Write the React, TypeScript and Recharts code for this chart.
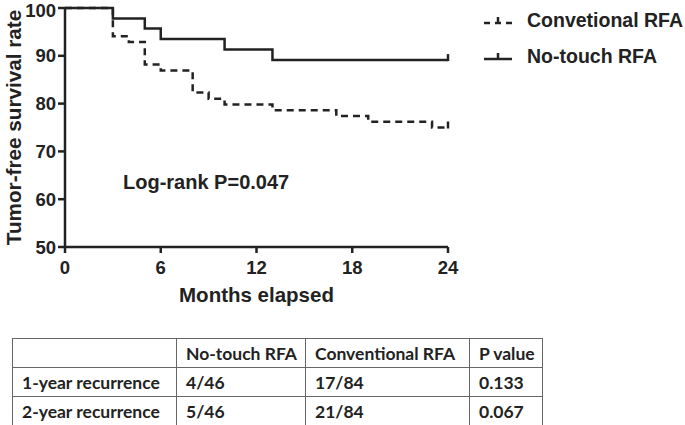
import React from 'react'
import { LineChart, Line, XAxis, YAxis } from 'recharts'

// Kaplan-Meier steps (months, % tumor-free)
const noTouchMonths = [0, 3, 5, 6, 10, 13, 24]
const noTouchRate = [100, 97.8, 95.7, 93.5, 91.3, 89.1, 89.1]

const convMonths = [0, 3, 4, 5, 6, 8, 9, 10, 13, 17, 19, 23, 24]
const convRate = [100, 94.1, 92.9, 88.2, 86.9, 82.3, 81.0, 79.8, 78.6, 77.4, 76.2, 75.0, 75.0]

const xTicks = [0, 6, 12, 18, 24]
const yTicks = [50, 60, 70, 80, 90, 100]

const seriesNames = ['Convetional RFA', 'No-touch RFA']
const logRankText = 'Log-rank P=0.047'

// table
const tableHeader = ['', 'No-touch RFA', 'Conventional RFA', 'P value']
const rowLabels = ['1-year recurrence', '2-year recurrence']
const noTouchRecurrence = ['4/46', '5/46']
const conventionalRecurrence = ['17/84', '21/84']
const pValues = ['0.133', '0.067']

const noTouchData = noTouchMonths.map((t, i) => ({ t, s: noTouchRate[i] }))
const convData = convMonths.map((t, i) => ({ t, s: convRate[i] }))

const INK = '#222'
const FONT = '"Liberation Sans", Arial, sans-serif'

// censor tick on the last point of each curve
const endTick = (len: number) => (props: any) => {
  const { cx, cy, index } = props
  if (index !== len - 1) return <g key={`d${index}`} />
  return (
    <line key={`d${index}`} x1={cx} y1={cy + 1} x2={cx} y2={cy - 6} stroke={INK} strokeWidth={2.5} />
  )
}

const YTitle = (props: any) => {
  const vb = props.viewBox
  const cx = 13
  const cy = vb.y + vb.height / 2
  return (
    <text
      x={cx}
      y={cy}
      transform={`rotate(-90 ${cx} ${cy})`}
      textAnchor="middle"
      dominantBaseline="central"
      fill={INK}
      fontWeight="bold"
      fontSize={20.7}
      fontFamily={FONT}
    >
      Tumor-free survival rate
    </text>
  )
}

const XTitle = (props: any) => {
  const vb = props.viewBox
  return (
    <text
      x={vb.x + vb.width / 2}
      y={vb.y + 55}
      textAnchor="middle"
      fill={INK}
      fontWeight="bold"
      fontSize={20.5}
      fontFamily={FONT}
    >
      Months elapsed
    </text>
  )
}

const tickStyle = { fontSize: 18.5, fontWeight: 'bold' as const, fill: INK, fontFamily: FONT }

function LegendIcon({ dashed }: { dashed: boolean }) {
  return (
    <svg width={30} height={12} style={{ display: 'block' }}>
      <line
        x1={1}
        y1={9}
        x2={29}
        y2={9}
        stroke={INK}
        strokeWidth={2.5}
        strokeDasharray={dashed ? '6 5' : undefined}
      />
      <line x1={15} y1={9} x2={15} y2={3} stroke={INK} strokeWidth={2.5} />
    </svg>
  )
}

const cellStyle: React.CSSProperties = {
  border: '1px solid #666',
  padding: '0 0 0 9px',
  height: 28,
  textAlign: 'left',
  fontWeight: 'bold',
  whiteSpace: 'nowrap',
}

export default function App() {
  return (
    <div
      style={{
        position: 'absolute',
        left: 0,
        top: 0,
        width: 685,
        height: 425,
        background: '#fff',
        fontFamily: FONT,
        color: INK,
      }}
    >
      <LineChart width={685} height={330} margin={{ top: 8, right: 237, left: 0, bottom: 23 }}>
        <XAxis
          type="number"
          dataKey="t"
          domain={[0, 24]}
          ticks={xTicks}
          tick={tickStyle}
          tickSize={6}
          tickMargin={8}
          height={60}
          axisLine={{ stroke: INK, strokeWidth: 2.5 }}
          tickLine={{ stroke: INK, strokeWidth: 2.5 }}
          allowDuplicatedCategory={false}
          label={{ content: XTitle }}
        />
        <YAxis
          type="number"
          domain={[50, 100]}
          ticks={yTicks}
          tick={tickStyle}
          tickSize={7}
          tickMargin={2}
          width={65}
          axisLine={{ stroke: INK, strokeWidth: 2.5 }}
          tickLine={{ stroke: INK, strokeWidth: 2.5 }}
          label={{ content: YTitle }}
        />
        <Line
          data={convData}
          dataKey="s"
          type="stepAfter"
          stroke={INK}
          strokeWidth={2.5}
          strokeDasharray="7 5"
          dot={endTick(convData.length)}
          activeDot={false}
          isAnimationActive={false}
        />
        <Line
          data={noTouchData}
          dataKey="s"
          type="stepAfter"
          stroke={INK}
          strokeWidth={2.5}
          dot={endTick(noTouchData.length)}
          activeDot={false}
          isAnimationActive={false}
        />
      </LineChart>

      <div
        style={{
          position: 'absolute',
          left: 123,
          top: 171,
          fontSize: 20,
          fontWeight: 'bold',
          whiteSpace: 'nowrap',
        }}
      >
        {logRankText}
      </div>

      <div style={{ position: 'absolute', left: 483, top: 7 }}>
        {seriesNames.map((name, i) => (
          <div
            key={name}
            style={{ display: 'flex', alignItems: 'center', height: 26, marginBottom: i === 0 ? 10 : 0 }}
          >
            <LegendIcon dashed={i === 0} />
            <span style={{ marginLeft: 14, fontSize: 19.5, fontWeight: 'bold', whiteSpace: 'nowrap' }}>
              {name}
            </span>
          </div>
        ))}
      </div>

      <table
        style={{
          position: 'absolute',
          left: 12,
          top: 338,
          width: 530,
          borderCollapse: 'collapse',
          fontFamily: 'Lato, "Open Sans", sans-serif',
          fontSize: 17.5,
          color: INK,
          tableLayout: 'fixed',
        }}
      >
        <colgroup>
          <col style={{ width: 164 }} />
          <col style={{ width: 129 }} />
          <col style={{ width: 164 }} />
          <col style={{ width: 73 }} />
        </colgroup>
        <tbody>
          <tr>
            {tableHeader.map((h, i) => (
              <td key={i} style={cellStyle}>
                {h}
              </td>
            ))}
          </tr>
          {rowLabels.map((label, i) => (
            <tr key={label}>
              <td style={cellStyle}>{label}</td>
              <td style={cellStyle}>{noTouchRecurrence[i]}</td>
              <td style={cellStyle}>{conventionalRecurrence[i]}</td>
              <td style={cellStyle}>{pValues[i]}</td>
            </tr>
          ))}
        </tbody>
      </table>
    </div>
  )
}
